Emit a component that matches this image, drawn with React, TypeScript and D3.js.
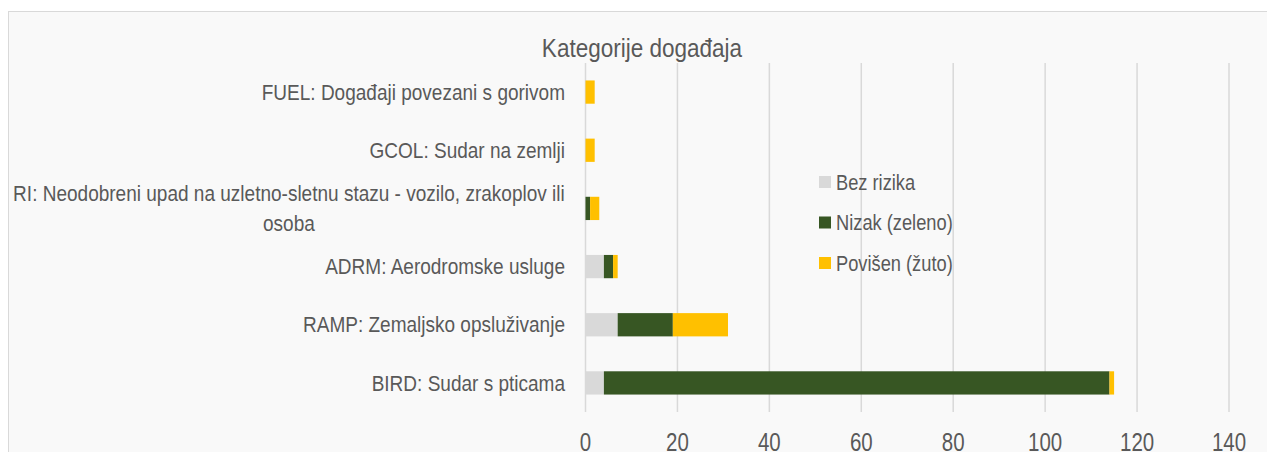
import React, { useEffect, useRef } from "react";
import * as d3 from "d3";

const categories = [
  "FUEL: Događaji povezani s gorivom",
  "GCOL: Sudar na zemlji",
  "RI: Neodobreni upad na uzletno-sletnu stazu - vozilo, zrakoplov ili osoba",
  "ADRM: Aerodromske usluge",
  "RAMP: Zemaljsko opsluživanje",
  "BIRD: Sudar s pticama",
];
const bezRizika = [0, 0, 0, 4, 7, 4];
const nizak = [0, 0, 1, 2, 12, 110];
const povisen = [2, 2, 2, 1, 12, 1];
const seriesNames = ["Bez rizika", "Nizak (zeleno)", "Povišen (žuto)"];
const seriesColors = ["#d9d9d9", "#375623", "#ffc000"];
const xTicks = [0, 20, 40, 60, 80, 100, 120, 140];
const title = "Kategorije događaja";

const W = 1267;
const H = 452;
const FONT = "'Liberation Sans', Arial, sans-serif";
const TXT = "#595959";
const K = 0.85;
const KL = 0.865;

export default function App() {
  const ref = useRef<SVGSVGElement>(null);
  useEffect(() => {
    const svg = d3.select(ref.current);
    svg.selectAll("*").remove();

    const addText = (
      parent: any,
      x: number,
      y: number,
      s: string,
      size: number,
      anchor: string,
      k: number = K
    ) =>
      parent
        .append("text")
        .attr("transform", `translate(${x},${y}) scale(${k},1)`)
        .attr("text-anchor", anchor)
        .attr("font-family", FONT)
        .attr("font-size", size)
        .attr("fill", TXT)
        .text(s);

    svg.append("rect").attr("width", W).attr("height", H).attr("fill", "#ffffff");
    svg
      .append("rect")
      .attr("x", 8.5)
      .attr("y", 11.5)
      .attr("width", W + 20)
      .attr("height", H + 20)
      .attr("fill", "#f9f9f9")
      .attr("stroke", "#d9d9d9")
      .attr("stroke-width", 1);

    const x = d3.scaleLinear().domain([0, 140]).range([585.5, 1229]);
    const y = d3
      .scaleBand<string>()
      .domain(categories)
      .range([63, 412])
      .paddingInner(0.6)
      .paddingOuter(0.3);

    // gridlines
    svg
      .append("g")
      .selectAll("line")
      .data(xTicks)
      .join("line")
      .attr("x1", (d) => x(d))
      .attr("x2", (d) => x(d))
      .attr("y1", 63)
      .attr("y2", 412)
      .attr("stroke", "#d9d9d9")
      .attr("stroke-width", 1.5);

    // tick labels
    const tg = svg.append("g");
    xTicks.forEach((t) => addText(tg, x(t), 451, String(t), 25, "middle", 0.82));

    // stacked bars
    const rows = categories.map((c, i) => ({
      cat: c,
      s0: bezRizika[i],
      s1: nizak[i],
      s2: povisen[i],
    }));
    const stacked = d3.stack<any>().keys(["s0", "s1", "s2"])(rows);
    svg
      .append("g")
      .selectAll("g")
      .data(stacked)
      .join("g")
      .attr("fill", (_, i) => seriesColors[i])
      .selectAll("rect")
      .data((d) => d)
      .join("rect")
      .attr("x", (d) => x(d[0]))
      .attr("width", (d) => Math.max(0, x(d[1]) - x(d[0])))
      .attr("y", (d) => y(d.data.cat)!)
      .attr("height", y.bandwidth());

    // category labels with wrapping
    const labelRight = 565;
    const maxW = 556;
    const size = 22;
    const lg = svg.append("g");
    const measure = (s: string) => {
      const t = lg
        .append("text")
        .attr("font-family", FONT)
        .attr("font-size", size)
        .text(s);
      const w = (t.node() as SVGTextElement).getComputedTextLength() * KL;
      t.remove();
      return w;
    };
    categories.forEach((c) => {
      const cy = y(c)! + y.bandwidth() / 2;
      const words = c.split(" ");
      const lines: string[] = [];
      let cur = "";
      words.forEach((w) => {
        const test = cur ? cur + " " + w : w;
        if (measure(test) > maxW && cur) {
          lines.push(cur);
          cur = w;
        } else cur = test;
      });
      lines.push(cur);
      const lineH = 30;
      const blockW = Math.max(...lines.map(measure));
      lines.forEach((l, i) => {
        const ly = cy + (i - (lines.length - 1) / 2) * lineH + size * 0.35;
        if (lines.length > 1) addText(lg, labelRight - blockW / 2, ly, l, size, "middle", KL);
        else addText(lg, labelRight, ly, l, size, "end", KL);
      });
    });

    // title
    addText(svg, 642, 57, title, 26.5, "middle");

    // legend
    const leg = svg.append("g").attr("transform", "translate(819,182)");
    seriesNames.forEach((n, i) => {
      const g = leg.append("g").attr("transform", `translate(0,${i * 40.5})`);
      g.append("rect")
        .attr("x", 0)
        .attr("y", -6)
        .attr("width", 12)
        .attr("height", 12)
        .attr("fill", seriesColors[i]);
      addText(g, 17, 21.5 * 0.35, n, 21.5, "start");
    });
  }, []);

  return (
    <svg
      ref={ref}
      width={W}
      height={H}
      style={{ position: "absolute", left: 0, top: 0, display: "block" }}
    />
  );
}
